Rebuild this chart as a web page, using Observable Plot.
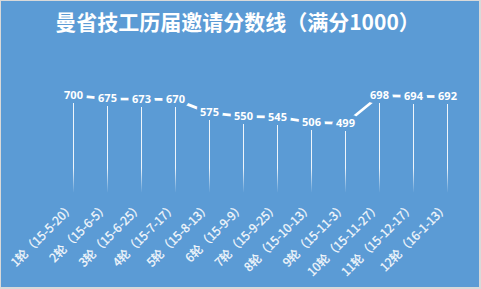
<!DOCTYPE html>
<html>
<head>
<meta charset="utf-8">
<script src="https://cdn.jsdelivr.net/npm/d3@7"></script>
<script src="https://cdn.jsdelivr.net/npm/@observablehq/plot@0.6"></script>
<style>
  html, body { margin: 0; padding: 0; background: #ffffff; }
  #wrap { position: relative; width: 481px; height: 289px; }
  #border { position: absolute; left: 0; top: 0; width: 481px; height: 289px; box-sizing: border-box;
            border: 1px solid #d9d9d9; border-right-width: 2px; border-bottom-width: 2px; pointer-events: none; }
  svg { display: block; }
</style>
</head>
<body>
<div id="wrap"><div id="border"></div></div>
<script>
const title = "曼省技工历届邀请分数线（满分1000）";
const categories = [
  "1轮（15-5-20）", "2轮（15-6-5）", "3轮（15-6-25）", "4轮（15-7-17）",
  "5轮（15-8-13）", "6轮（15-9-9）", "7轮（15-9-25）", "8轮（15-10-13）",
  "9轮（15-11-3）", "10轮（15-11-27）", "11轮（15-12-17）", "12轮（16-1-13）"
];
const values = [700, 675, 673, 670, 575, 550, 545, 506, 499, 698, 694, 692];

const bg = "#5B9BD5";
const data = categories.map((c, i) => ({cat: c, value: values[i]}));

const chart = Plot.plot({
  width: 481,
  height: 289,
  marginLeft: 55,
  marginRight: 16,
  marginTop: 81,
  marginBottom: 96.5,
  style: {background: bg, overflow: "visible"},
  x: {type: "point", domain: categories, padding: 0.5, axis: null},
  y: {domain: [0, 800], axis: null},
  marks: [
    Plot.ruleX(data, {x: "cat", y1: 0, y2: "value", stroke: "url(#fade)", strokeWidth: 1}),
    Plot.line(data, {x: "cat", y: "value", stroke: "white", strokeWidth: 2.75}),
    Plot.text(data, {
      x: "cat", y: "value", text: d => String(d.value),
      fill: "white", stroke: bg, strokeWidth: 8, strokeLinejoin: "round",
      fontWeight: "bold", fontSize: 11, fontFamily: "Noto Sans, Open Sans, sans-serif"
    }),
    Plot.text(categories, {
      x: d => d, frameAnchor: "bottom", rotate: -45, textAnchor: "end",
      dx: 2, dy: 15, fill: "#f4f8fc", stroke: "#f4f8fc", strokeWidth: 0.25,
      fontSize: 12, fontFamily: "Noto Sans CJK SC, sans-serif"
    }),
    Plot.text([title], {
      frameAnchor: "top", lineAnchor: "middle", text: d => d, dx: -23, dy: -58,
      fill: "white", fontWeight: "bold", fontSize: 21,
      fontFamily: "Noto Sans CJK SC, sans-serif"
    })
  ]
});

const ns = "http://www.w3.org/2000/svg";
const defs = document.createElementNS(ns, "defs");
const grad = document.createElementNS(ns, "linearGradient");
grad.setAttribute("id", "fade");
grad.setAttribute("gradientUnits", "userSpaceOnUse");
grad.setAttribute("x1", "0"); grad.setAttribute("x2", "0");
grad.setAttribute("y1", "168"); grad.setAttribute("y2", "193");
[["0", 0.9], ["1", 0]].forEach(([o, op]) => {
  const s = document.createElementNS(ns, "stop");
  s.setAttribute("offset", o);
  s.setAttribute("stop-color", "white");
  s.setAttribute("stop-opacity", op);
  grad.appendChild(s);
});
defs.appendChild(grad);
chart.insertBefore(defs, chart.firstChild);

document.getElementById("wrap").insertBefore(chart, document.getElementById("border"));
</script>
</body>
</html>
